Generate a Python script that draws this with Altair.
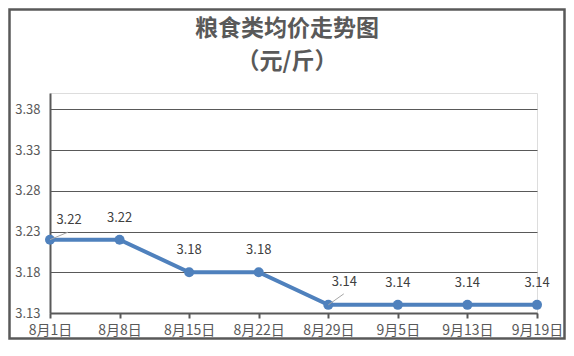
import altair as alt
import pandas as pd

dates = ["8月1日", "8月8日", "8月15日", "8月22日", "8月29日", "9月5日", "9月13日", "9月19日"]
prices = [3.22, 3.22, 3.18, 3.18, 3.14, 3.14, 3.14, 3.14]
y_ticks = [3.13, 3.18, 3.23, 3.28, 3.33, 3.38]
title_text = "粮食类均价走势图"
subtitle_text = "（元/斤）"

df = pd.DataFrame({"date": dates, "price": prices, "idx": list(range(len(dates)))})

GRAY = "#595959"
BLUE = "#4f81bd"
FONT = "Noto Sans CJK SC"
W, H = 487, 220
PL, PT, PR, PB = 42, 85, 29, 27

x_enc = alt.X("date:N", sort=dates, scale=alt.Scale(type="point", padding=0),
              axis=alt.Axis(title=None, labelAngle=0, domainColor=GRAY, domainWidth=2,
                            tickColor=GRAY, tickWidth=2, tickSize=5, labelColor=GRAY,
                            labelFontSize=14, labelFont=FONT, labelPadding=5, grid=False))
y_enc = alt.Y("price:Q", scale=alt.Scale(domain=[3.13, 3.40], nice=False, zero=False),
              axis=alt.Axis(title=None, values=y_ticks, format=".2f", domainColor=GRAY,
                            domainWidth=2, ticks=False, labelColor=GRAY, labelFontSize=13,
                            labelFont=FONT, labelPadding=10, grid=True, gridColor=GRAY,
                            gridWidth=1))
x_p = alt.X("date:N", sort=dates)
y_p = alt.Y("price:Q")

base = alt.Chart(df)
first = base.transform_filter("datum.idx == 0")

border = first.mark_rect(fill=None, stroke=GRAY, strokeWidth=2.5).encode(
    x=alt.value(-PL + 1.5), x2=alt.value(W + PR - 1.5),
    y=alt.value(-PT + 1.5), y2=alt.value(H + PB - 1.5)
)

title1 = first.mark_text(font=FONT, fontSize=23, fontWeight="bold", color=GRAY,
                         baseline="middle", align="center").encode(
    x=alt.value(W / 2 - 6.5), y=alt.value(29 - 93), text=alt.value(title_text))
title2 = first.mark_text(font=FONT, fontSize=23, fontWeight="bold", color=GRAY,
                         baseline="middle", align="center").encode(
    x=alt.value(W / 2 - 6.5), y=alt.value(62 - 93), text=alt.value(subtitle_text))

line = base.mark_line(color=BLUE, strokeWidth=4).encode(x=x_enc, y=y_enc)
points = base.mark_circle(color=BLUE, size=100, opacity=1).encode(x=x_p, y=y_p)

txt = alt.Text("price:Q", format=".2f")
labels_mid = base.mark_text(dy=-22, fontSize=13, font=FONT, color="#404040").encode(
    x=x_p, y=y_p, text=txt
).transform_filter("datum.idx != 0 && datum.idx != 4")

label0 = base.mark_text(dx=19, dy=-20, fontSize=13, font=FONT, color="#404040").encode(
    x=x_p, y=y_p, text=txt
).transform_filter("datum.idx == 0")
label4 = base.mark_text(dx=16, dy=-23, fontSize=13, font=FONT, color="#404040").encode(
    x=x_p, y=y_p, text=txt
).transform_filter("datum.idx == 4")

leader0 = base.mark_rule(color="#a6a6a6", strokeWidth=1, x2Offset=18, y2Offset=-7.5).encode(
    x=x_p, x2=alt.X2("date:N"), y=y_p, y2=alt.Y2("price:Q")
).transform_filter("datum.idx == 0")
leader4 = base.mark_rule(color="#a6a6a6", strokeWidth=1, x2Offset=15.5, y2Offset=-11).encode(
    x=x_p, x2=alt.X2("date:N"), y=y_p, y2=alt.Y2("price:Q")
).transform_filter("datum.idx == 4")

chart = alt.layer(line, points, leader0, leader4, labels_mid, label0, label4,
                  title1, title2, border).properties(
    width=W, height=H,
    autosize=alt.AutoSizeParams(type="none"),
    padding={"left": PL, "top": PT, "right": PR, "bottom": PB},
).configure_view(strokeWidth=0).configure(background="white")

chart.save("out.html", embed_options={"renderer": "svg", "actions": False})
